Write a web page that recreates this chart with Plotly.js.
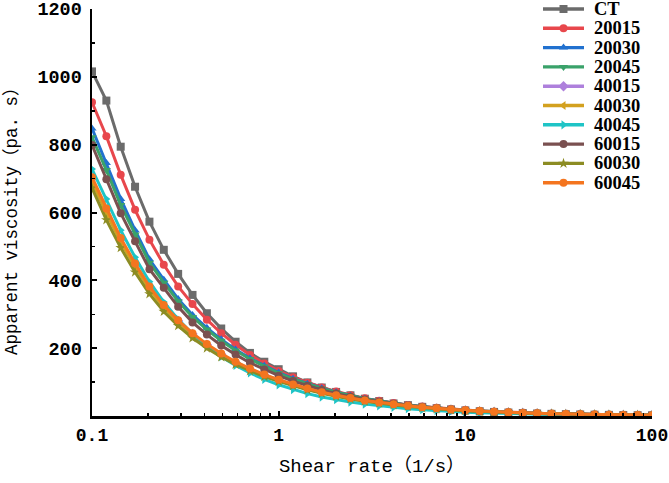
<!DOCTYPE html>
<html><head><meta charset="utf-8">
<script src="https://cdn.plot.ly/plotly-3.0.1.min.js"></script>
<style>html,body{margin:0;padding:0;background:#fff}</style>
</head><body>
<div id="chart" style="width:669px;height:483px"></div>
<script>
// Shear rate (1/s), logarithmic ramp 0.1 -> 100
const shearRate = [0.1, 0.1194, 0.1425, 0.1701, 0.2031, 0.2424, 0.2894, 0.3455, 0.4125, 0.4924,
  0.5878, 0.7017, 0.8377, 1.0, 1.194, 1.425, 1.701, 2.031, 2.424, 2.894,
  3.455, 4.125, 4.924, 5.878, 7.017, 8.377, 10.0, 11.94, 14.25, 17.01,
  20.31, 24.24, 28.94, 34.55, 41.25, 49.24, 58.78, 70.17, 83.77, 100.0];

const seriesNames = ['CT', '20015', '20030', '20045', '40015', '40030', '40045', '60015', '60030', '60045'];

const visCT    = [1016, 930, 794, 676, 573, 490, 419, 357, 303, 258, 219, 186, 160, 138, 117, 99, 84, 71, 61, 51, 44, 37, 32, 27, 23, 19.5, 16.5, 14, 12, 10.2, 8.7, 7.4, 6.3, 5.4, 4.6, 3.9, 3.3, 2.8, 2.4, 2.0];
const vis20015 = [925, 825, 711, 608, 520, 446, 382, 330, 284, 244, 210, 180, 155, 133, 114, 98, 84, 72, 61, 52, 45, 38, 32.5, 28, 24, 20.5, 17.5, 15, 12.8, 10.9, 9.3, 7.9, 6.7, 5.7, 4.9, 4.2, 3.6, 3.1, 2.6, 2.2];
const vis20030 = [848, 746, 640, 548, 462, 402, 345, 298, 260, 226, 196, 170, 148, 128, 110, 95, 82, 70, 60, 51, 44, 37.5, 32, 27.5, 23.5, 20, 17, 14.5, 12.4, 10.6, 9.0, 7.7, 6.6, 5.6, 4.8, 4.1, 3.5, 3.0, 2.5, 2.1];
const vis20045 = [822, 725, 622, 535, 452, 393, 338, 292, 255, 222, 193, 168, 146, 126, 109, 94, 81, 70, 60, 51, 44, 37.5, 32, 27.5, 23.5, 20, 17, 14.5, 12.4, 10.6, 9.0, 7.7, 6.6, 5.6, 4.8, 4.1, 3.5, 3.0, 2.5, 2.1];
const vis40015 = [700, 607, 520, 446, 380, 325, 280, 242, 210, 182, 158, 138, 121, 106, 92, 80, 69, 60, 52, 45, 39, 33.5, 29, 25, 21.5, 18.5, 16, 13.7, 11.8, 10.1, 8.7, 7.4, 6.4, 5.5, 4.7, 4.0, 3.4, 2.9, 2.5, 2.1];
const vis40030 = [690, 598, 512, 440, 374, 320, 276, 239, 207, 180, 157, 137, 120, 105, 91, 79, 68, 59, 51, 44, 38, 33, 28.5, 24.5, 21, 18, 15.5, 13.3, 11.4, 9.8, 8.4, 7.2, 6.2, 5.3, 4.5, 3.9, 3.3, 2.8, 2.4, 2.0];
const vis40045 = [728, 640, 548, 468, 396, 336, 285, 242, 206, 175, 149, 127, 108, 92, 78, 66, 56, 48, 41, 35, 30, 25.5, 21.5, 18.5, 15.7, 13.4, 11.4, 9.7, 8.3, 7.1, 6.1, 5.2, 4.4, 3.8, 3.2, 2.8, 2.4, 2.0, 1.7, 1.5];
const vis60015 = [799, 698, 598, 515, 433, 378, 322, 276, 240, 208, 181, 157, 137, 119, 103, 89, 77, 66, 57, 49, 42, 36, 31, 26.5, 22.5, 19.2, 16.4, 14, 12, 10.2, 8.7, 7.4, 6.3, 5.4, 4.6, 3.9, 3.3, 2.8, 2.4, 2.0];
const vis60030 = [672, 578, 496, 424, 360, 308, 266, 230, 200, 174, 152, 133, 116, 102, 89, 77, 67, 58, 50, 43.5, 37.5, 32.5, 28, 24, 20.8, 18, 15.5, 13.4, 11.5, 9.9, 8.5, 7.3, 6.3, 5.4, 4.7, 4.0, 3.4, 2.9, 2.5, 2.1];
const vis60045 = [704, 612, 525, 450, 382, 327, 282, 244, 212, 184, 160, 140, 122, 107, 93, 81, 70, 61, 53, 46, 40, 34.5, 30, 26, 22.5, 19.4, 16.7, 14.4, 12.4, 10.7, 9.2, 7.9, 6.8, 5.9, 5.1, 4.4, 3.8, 3.3, 2.8, 2.4];

const seriesValues = [visCT, vis20015, vis20030, vis20045, vis40015, vis40030, vis40045, vis60015, vis60030, vis60045];

const colors = ['#6b6b6b', '#e8474c', '#2171cf', '#3aa26a', '#ae80dc', '#d3a11f', '#1fc4c6', '#7a5050', '#8c8c23', '#f4751f'];
const symbols = ['square', 'circle', 'triangle-up', 'triangle-down', 'diamond', 'triangle-left', 'triangle-right', 'circle', 'star', 'circle'];

const W = 669, H = 483;
const M = {l: 92, r: 17, t: 9, b: 67};
const PW = W - M.l - M.r, PH = H - M.t - M.b;
const px2fx = px => (px - M.l) / PW;
const py2fy = py => (H - M.b - py) / PH;

const traces = [];
seriesNames.forEach((name, k) => {
  traces.push({
    type: 'scatter', mode: 'lines+markers', name: name,
    x: shearRate, y: seriesValues[k],
    line: {color: colors[k], width: 3},
    marker: {color: colors[k], symbol: symbols[k], size: 8},
    showlegend: false
  });
});

// custom legend (sample line + marker + label)
const legX0 = 543, legX1 = 584, legTextX = 592, legY0 = 9, legStep = 19.3;
const shapes = [];
const annotations = [];
seriesNames.forEach((name, k) => {
  const py = legY0 + legStep * k;
  shapes.push({type: 'line', xref: 'paper', yref: 'paper',
    x0: px2fx(legX0), x1: px2fx(legX1), y0: py2fy(py), y1: py2fy(py),
    line: {color: colors[k], width: 3.4}});
  traces.push({type: 'scatter', mode: 'markers', xaxis: 'x2', yaxis: 'y2',
    x: [px2fx((legX0 + legX1) / 2)], y: [py2fy(py)], cliponaxis: false,
    marker: {color: colors[k], symbol: symbols[k], size: 8}, showlegend: false, hoverinfo: 'skip'});
  annotations.push({xref: 'paper', yref: 'paper', x: px2fx(legTextX), y: py2fy(py),
    xanchor: 'left', yanchor: 'middle', showarrow: false, text: '<b>' + name + '</b>',
    font: {family: 'Liberation Serif, serif', size: 18.5, color: '#000'}});
});

// y-axis title placed explicitly
annotations.push({xref: 'paper', yref: 'paper', x: px2fx(12), y: py2fy(217),
  xanchor: 'center', yanchor: 'middle', showarrow: false, textangle: -90,
  text: 'Apparent viscosity（pa. s）',
  font: {family: 'Liberation Mono, Noto Sans CJK SC, monospace', size: 17.5, color: '#000'}});

const minorX = [];
[0.1, 1, 10].forEach(d => { for (let m = 2; m <= 9; m++) minorX.push(d * m); });

const tickFont = {family: 'Liberation Mono, monospace', size: 18, color: '#000'};

const layout = {
  width: W, height: H,
  margin: M,
  paper_bgcolor: '#fff', plot_bgcolor: '#fff',
  showlegend: false,
  xaxis: {
    type: 'log', range: [-1, 2],
    tickvals: [0.1, 1, 10, 100], ticktext: ['<b>0.1</b>', '<b>1</b>', '<b>10</b>', '<b>100</b>'],
    ticklabeloverflow: 'allow',
    ticks: 'inside', ticklen: 5, tickwidth: 2, tickcolor: '#000',
    minor: {tickvals: minorX, ticks: 'inside', ticklen: 3, tickwidth: 1.5, tickcolor: '#000', showgrid: false},
    showline: true, linecolor: '#000', linewidth: 2.5,
    showgrid: false, zeroline: false,
    tickfont: tickFont, ticklabelstandoff: 1,
    title: {text: 'Shear rate（1/s）', font: {family: 'Liberation Mono, Noto Sans CJK SC, monospace', size: 19, color: '#000'}, standoff: 14}
  },
  yaxis: {
    range: [0, 1200],
    tickvals: [200, 400, 600, 800, 1000, 1200],
    ticktext: ['<b>200</b>', '<b>400</b>', '<b>600</b>', '<b>800</b>', '<b>1000</b>', '<b>1200</b>'],
    ticklabeloverflow: 'allow',
    ticks: 'inside', ticklen: 5, tickwidth: 2, tickcolor: '#000',
    minor: {dtick: 100, ticks: 'inside', ticklen: 3, tickwidth: 1.5, tickcolor: '#000', showgrid: false},
    showline: true, linecolor: '#000', linewidth: 2.5,
    showgrid: false, zeroline: false,
    tickfont: {family: 'Liberation Mono, monospace', size: 18.5, color: '#000'}, ticklabelstandoff: 4
  },
  xaxis2: {overlaying: 'x', range: [0, 1], visible: false, fixedrange: true},
  yaxis2: {overlaying: 'y', range: [0, 1], visible: false, fixedrange: true},
  shapes: shapes,
  annotations: annotations
};

Plotly.newPlot('chart', traces, layout, {displayModeBar: false, staticPlot: true});
</script>
</body></html>
